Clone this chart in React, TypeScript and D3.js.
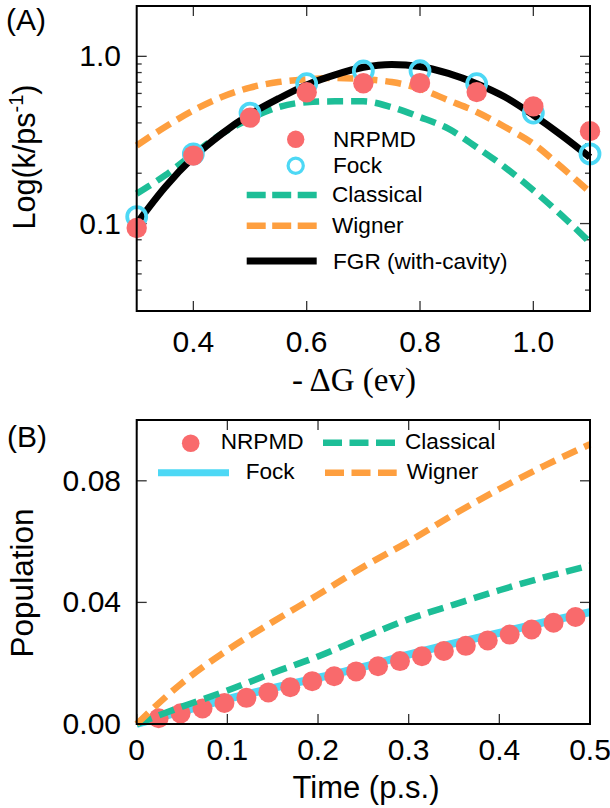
import React from "react";
import * as d3 from "d3";

// ---------- Panel A data ----------
const gridA = [0.3, 0.35, 0.4, 0.45, 0.5, 0.55, 0.6, 0.65, 0.7, 0.75, 0.8, 0.85, 0.9, 0.95, 1.0, 1.05, 1.1];
const fgrA = [0.1, 0.165, 0.249, 0.344, 0.45, 0.558, 0.675, 0.775, 0.86, 0.895, 0.87, 0.79, 0.686, 0.571, 0.445, 0.337, 0.249];
const classicalA = [0.151, 0.194, 0.261, 0.344, 0.424, 0.497, 0.532, 0.538, 0.538, 0.497, 0.433, 0.369, 0.286, 0.217, 0.158, 0.112, 0.077];
const wignerA = [0.293, 0.378, 0.475, 0.571, 0.65, 0.702, 0.728, 0.742, 0.73, 0.702, 0.64, 0.546, 0.465, 0.378, 0.3, 0.217, 0.154];
const pointsA = [0.3, 0.4, 0.5, 0.6, 0.7, 0.8, 0.9, 1.0, 1.1];
const nrpmdA = [0.094, 0.255, 0.43, 0.61, 0.69, 0.692, 0.611, 0.502, 0.357];
const fockA = [0.11, 0.261, 0.458, 0.686, 0.817, 0.82, 0.686, 0.458, 0.261];
const xTicksA = [0.4, 0.6, 0.8, 1.0];
const xTickLabelsA = ["0.4", "0.6", "0.8", "1.0"];
const yTicksA = [0.1, 1.0];
const yTickLabelsA = ["0.1", "1.0"];
const yMinorA = [0.04, 0.05, 0.06, 0.08, 0.2, 0.3, 0.4, 0.5, 0.6, 0.7, 0.8, 0.9];

// ---------- Panel B data ----------
const gridB = [0, 0.05, 0.1, 0.15, 0.2, 0.25, 0.3, 0.35, 0.4, 0.45, 0.5];
const fockB = [0, 0.0042, 0.0082, 0.0118, 0.0152, 0.0188, 0.0228, 0.0265, 0.03, 0.0335, 0.0368];
const classicalB = [0, 0.0057, 0.011, 0.0168, 0.0222, 0.0285, 0.0345, 0.0393, 0.044, 0.0483, 0.0521];
const wignerB = [0, 0.0135, 0.0243, 0.0336, 0.0425, 0.0517, 0.06, 0.069, 0.0773, 0.085, 0.092];
const timesB = [0.0242, 0.0484, 0.0726, 0.0968, 0.121, 0.1452, 0.1694, 0.1936, 0.2178, 0.242, 0.2662, 0.2904, 0.3146, 0.3388, 0.363, 0.3872, 0.4114, 0.4356, 0.4598, 0.484];
const nrpmdB = [0.0019, 0.0035, 0.0051, 0.0069, 0.0086, 0.0104, 0.0121, 0.0141, 0.0157, 0.0173, 0.019, 0.0207, 0.0223, 0.024, 0.0257, 0.0275, 0.0294, 0.0311, 0.0333, 0.0352];
const xTicksB = [0, 0.1, 0.2, 0.3, 0.4, 0.5];
const xTickLabelsB = ["0", "0.1", "0.2", "0.3", "0.4", "0.5"];
const yTicksB = [0, 0.04, 0.08];
const yTickLabelsB = ["0.00", "0.04", "0.08"];

const RED = "#F96A6C";
const CYAN = "#4DD8F5";
const GREEN = "#1DBE97";
const ORANGE = "#FE9F3F";
const FONT = "'Liberation Sans', Arial, Helvetica, sans-serif";
const DASH = "16 8";

export default function App() {
  const L = 136.7, R = 590;
  const xA = d3.scaleLinear().domain([0.3, 1.1]).range([L, R]);
  const yA = d3.scaleLog().domain([0.03, 2]).range([311, 6]);
  const xB = d3.scaleLinear().domain([0, 0.5]).range([L, R]);
  const yB = d3.scaleLinear().domain([0, 0.1]).range([724, 420]);

  const lineA = (vals: number[]) =>
    d3.line<number>().x((_, i) => xA(gridA[i])).y((v) => yA(v)).curve(d3.curveMonotoneX)(vals) || "";
  const lineB = (vals: number[]) =>
    d3.line<number>().x((_, i) => xB(gridB[i])).y((v) => yB(v)).curve(d3.curveMonotoneX)(vals) || "";

  const tickColor = "#333";
  const LF = 22.6;

  return (
    <svg width={610} height={808} style={{ position: "absolute", left: 0, top: 0, background: "#fff" }} fontFamily={FONT}>
      {/* ===== Panel A ===== */}
      <text x={6} y={30} fontSize={30}>(A)</text>
      {xTicksA.map((t) => (
        <g key={"xa" + t}>
          <line x1={xA(t)} x2={xA(t)} y1={311} y2={301} stroke={tickColor} strokeWidth={1.3} />
          <line x1={xA(t)} x2={xA(t)} y1={6} y2={16} stroke={tickColor} strokeWidth={1.3} />
        </g>
      ))}
      {yTicksA.map((t) => (
        <g key={"ya" + t}>
          <line x1={L} x2={L + 10} y1={yA(t)} y2={yA(t)} stroke={tickColor} strokeWidth={1.3} />
          <line x1={R} x2={R - 10} y1={yA(t)} y2={yA(t)} stroke={tickColor} strokeWidth={1.3} />
        </g>
      ))}
      {yMinorA.map((t) => (
        <g key={"yma" + t}>
          <line x1={L} x2={L + 5} y1={yA(t)} y2={yA(t)} stroke={tickColor} strokeWidth={1.3} />
          <line x1={R} x2={R - 5} y1={yA(t)} y2={yA(t)} stroke={tickColor} strokeWidth={1.3} />
        </g>
      ))}
      <path d={lineA(classicalA)} fill="none" stroke={GREEN} strokeWidth={6.5} strokeDasharray={DASH} />
      <path d={lineA(wignerA)} fill="none" stroke={ORANGE} strokeWidth={6.5} strokeDasharray={DASH} />
      <path d={lineA(fgrA)} fill="none" stroke="#000" strokeWidth={7} />
      {pointsA.map((x, i) => (
        <circle key={"fa" + i} cx={xA(x)} cy={yA(fockA[i])} r={9.5} fill="none" stroke={CYAN} strokeWidth={3.8} />
      ))}
      {pointsA.map((x, i) => (
        <circle key={"na" + i} cx={xA(x)} cy={yA(nrpmdA[i])} r={10.2} fill={RED} />
      ))}
      <rect x={L} y={6} width={R - L} height={305} fill="none" stroke="#000" strokeWidth={2} />
      {xTicksA.map((t, i) => (
        <text key={"xla" + t} x={xA(t)} y={352} fontSize={30} textAnchor="middle">{xTickLabelsA[i]}</text>
      ))}
      {yTicksA.map((t, i) => (
        <text key={"yla" + t} x={121} y={yA(t) + 10} fontSize={30} textAnchor="end">{yTickLabelsA[i]}</text>
      ))}
      <text transform="translate(35,157) rotate(-90)" fontSize={30.5} textAnchor="middle">
        Log(k/ps<tspan dy={-12} fontSize={20}>-1</tspan><tspan dy={12}>)</tspan>
      </text>
      <text x={354} y={391} fontSize={33} textAnchor="middle" fontFamily="'Liberation Serif', 'Times New Roman', serif">- ΔG (ev)</text>
      {/* legend A */}
      <circle cx={295.7} cy={139.3} r={8.7} fill={RED} />
      <text x={333} y={147} fontSize={LF}>NRPMD</text>
      <circle cx={295.7} cy={165.7} r={7.6} fill="none" stroke={CYAN} strokeWidth={3.2} />
      <text x={333} y={173} fontSize={LF}>Fock</text>
      <line x1={246.7} x2={316.7} y1={195} y2={195} stroke={GREEN} strokeWidth={6.5} strokeDasharray="19 6.5" />
      <text x={332} y={202} fontSize={LF}>Classical</text>
      <line x1={246.7} x2={316.7} y1={225.7} y2={225.7} stroke={ORANGE} strokeWidth={6.5} strokeDasharray="19 6.5" />
      <text x={332} y={233} fontSize={LF}>Wigner</text>
      <line x1={246.7} x2={316.7} y1={261} y2={261} stroke="#000" strokeWidth={7} />
      <text x={333} y={269} fontSize={LF}>FGR (with-cavity)</text>

      {/* ===== Panel B ===== */}
      <text x={7} y={447} fontSize={30}>(B)</text>
      {xTicksB.map((t) => (
        <g key={"xb" + t}>
          <line x1={xB(t)} x2={xB(t)} y1={724} y2={714} stroke={tickColor} strokeWidth={1.3} />
          <line x1={xB(t)} x2={xB(t)} y1={420} y2={430} stroke={tickColor} strokeWidth={1.3} />
        </g>
      ))}
      {yTicksB.map((t) => (
        <g key={"yb" + t}>
          <line x1={L} x2={L + 10} y1={yB(t)} y2={yB(t)} stroke={tickColor} strokeWidth={1.3} />
          <line x1={R} x2={R - 10} y1={yB(t)} y2={yB(t)} stroke={tickColor} strokeWidth={1.3} />
        </g>
      ))}
      <path d={lineB(fockB)} fill="none" stroke={CYAN} strokeWidth={8} />
      {timesB.map((t, i) => (
        <circle key={"nb" + i} cx={xB(t)} cy={yB(nrpmdB[i])} r={10} fill={RED} />
      ))}
      <path d={lineB(classicalB)} fill="none" stroke={GREEN} strokeWidth={6.5} strokeDasharray={DASH} />
      <path d={lineB(wignerB)} fill="none" stroke={ORANGE} strokeWidth={6.5} strokeDasharray={DASH} />
      <rect x={L} y={420} width={R - L} height={304} fill="none" stroke="#000" strokeWidth={2} />
      {xTicksB.map((t, i) => (
        <text key={"xlb" + t} x={xB(t)} y={760} fontSize={30} textAnchor="middle">{xTickLabelsB[i]}</text>
      ))}
      {yTicksB.map((t, i) => (
        <text key={"ylb" + t} x={121} y={yB(t) + 10} fontSize={30} textAnchor="end">{yTickLabelsB[i]}</text>
      ))}
      <text transform="translate(33,583) rotate(-90)" fontSize={31.5} textAnchor="middle">Population</text>
      <text x={366} y={798} fontSize={31} textAnchor="middle">Time (p.s.)</text>
      {/* legend B */}
      <circle cx={190.7} cy={443.3} r={8.8} fill={RED} />
      <text x={220.7} y={449} fontSize={LF}>NRPMD</text>
      <line x1={323} x2={395} y1={442.7} y2={442.7} stroke={GREEN} strokeWidth={6.5} strokeDasharray="19 7.5" />
      <text x={405} y={449} fontSize={LF}>Classical</text>
      <line x1={158} x2={229} y1={472.7} y2={472.7} stroke={CYAN} strokeWidth={7} />
      <text x={245.7} y={479} fontSize={LF}>Fock</text>
      <line x1={325} x2={396.7} y1={472.7} y2={472.7} stroke={ORANGE} strokeWidth={6.5} strokeDasharray="19 7.5" />
      <text x={406.7} y={479} fontSize={LF}>Wigner</text>
    </svg>
  );
}
